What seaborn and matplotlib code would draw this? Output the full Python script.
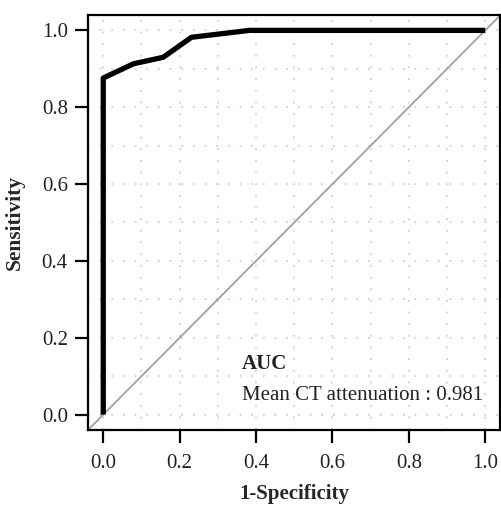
import matplotlib
matplotlib.use("Agg")
import matplotlib.pyplot as plt
import numpy as np
import pandas as pd
import seaborn as sns
from matplotlib.ticker import MultipleLocator

# ROC curve
fpr = [0.0, 0.0, 0.079, 0.157, 0.231, 0.383, 1.0]
tpr = [0.0, 0.876, 0.913, 0.930, 0.982, 1.0, 1.0]
auc_label = "Mean CT attenuation : 0.981"
ticks = [0.0, 0.2, 0.4, 0.6, 0.8, 1.0]

sns.set_style("white")
plt.rcParams['font.family'] = ['Liberation Serif', 'DejaVu Serif']

roc = pd.DataFrame({"fpr": fpr, "tpr": tpr})

fig = plt.figure(figsize=(5.01, 5.07), dpi=100)
ax = fig.add_axes([0.1756, 0.1519, 0.8234, 0.8185])

ax.set_xlim(-0.04, 1.04)
ax.set_ylim(-0.04, 1.04)
ax.xaxis.set_major_locator(MultipleLocator(0.2))
ax.yaxis.set_major_locator(MultipleLocator(0.2))
ax.xaxis.set_minor_locator(MultipleLocator(0.1))
ax.yaxis.set_minor_locator(MultipleLocator(0.1))
ax.grid(which='both', color='#c8c8c8', linestyle=(0, (1, 6)), linewidth=1.2)
ax.set_axisbelow(True)

# chance line
ax.plot([-0.04, 1.04], [-0.04, 1.04], color='#a0a0a0', linewidth=1.3,
        zorder=2)

sns.lineplot(data=roc, x="fpr", y="tpr", sort=False, estimator=None,
             color='black', linewidth=3.8, ax=ax, zorder=3)
for line in ax.lines[-1:]:
    line.set_solid_capstyle('butt')
    line.set_solid_joinstyle('round')

ax.set_xticks(ticks)
ax.set_yticks(ticks)
ax.set_xticklabels([f"{t:.1f}" for t in ticks])
ax.set_yticklabels([f"{t:.1f}" for t in ticks])
ax.tick_params(axis='both', which='major', direction='out', length=9.5,
               width=1.6, color='black', labelsize=15, pad=5,
               bottom=True, left=True, labelcolor='#222222')
ax.tick_params(axis='x', which='major', pad=8)
ax.tick_params(axis='both', which='minor', length=0)

for side in ['top', 'right', 'left', 'bottom']:
    ax.spines[side].set_color('black')
    ax.spines[side].set_linewidth(1.6)

ax.set_xlabel("1-Specificity", fontsize=15, fontweight='bold', labelpad=8)
ax.set_ylabel("Sensitivity", fontsize=15.5, fontweight='bold', labelpad=12)

ax.text(0.362, 0.131, "AUC", fontsize=15, fontweight='bold',
        va='center', ha='left', color='#222222')
ax.text(0.362, 0.049, auc_label, fontsize=15, va='center', ha='left',
        color='#222222')

fig.savefig("out.png", dpi=100)
